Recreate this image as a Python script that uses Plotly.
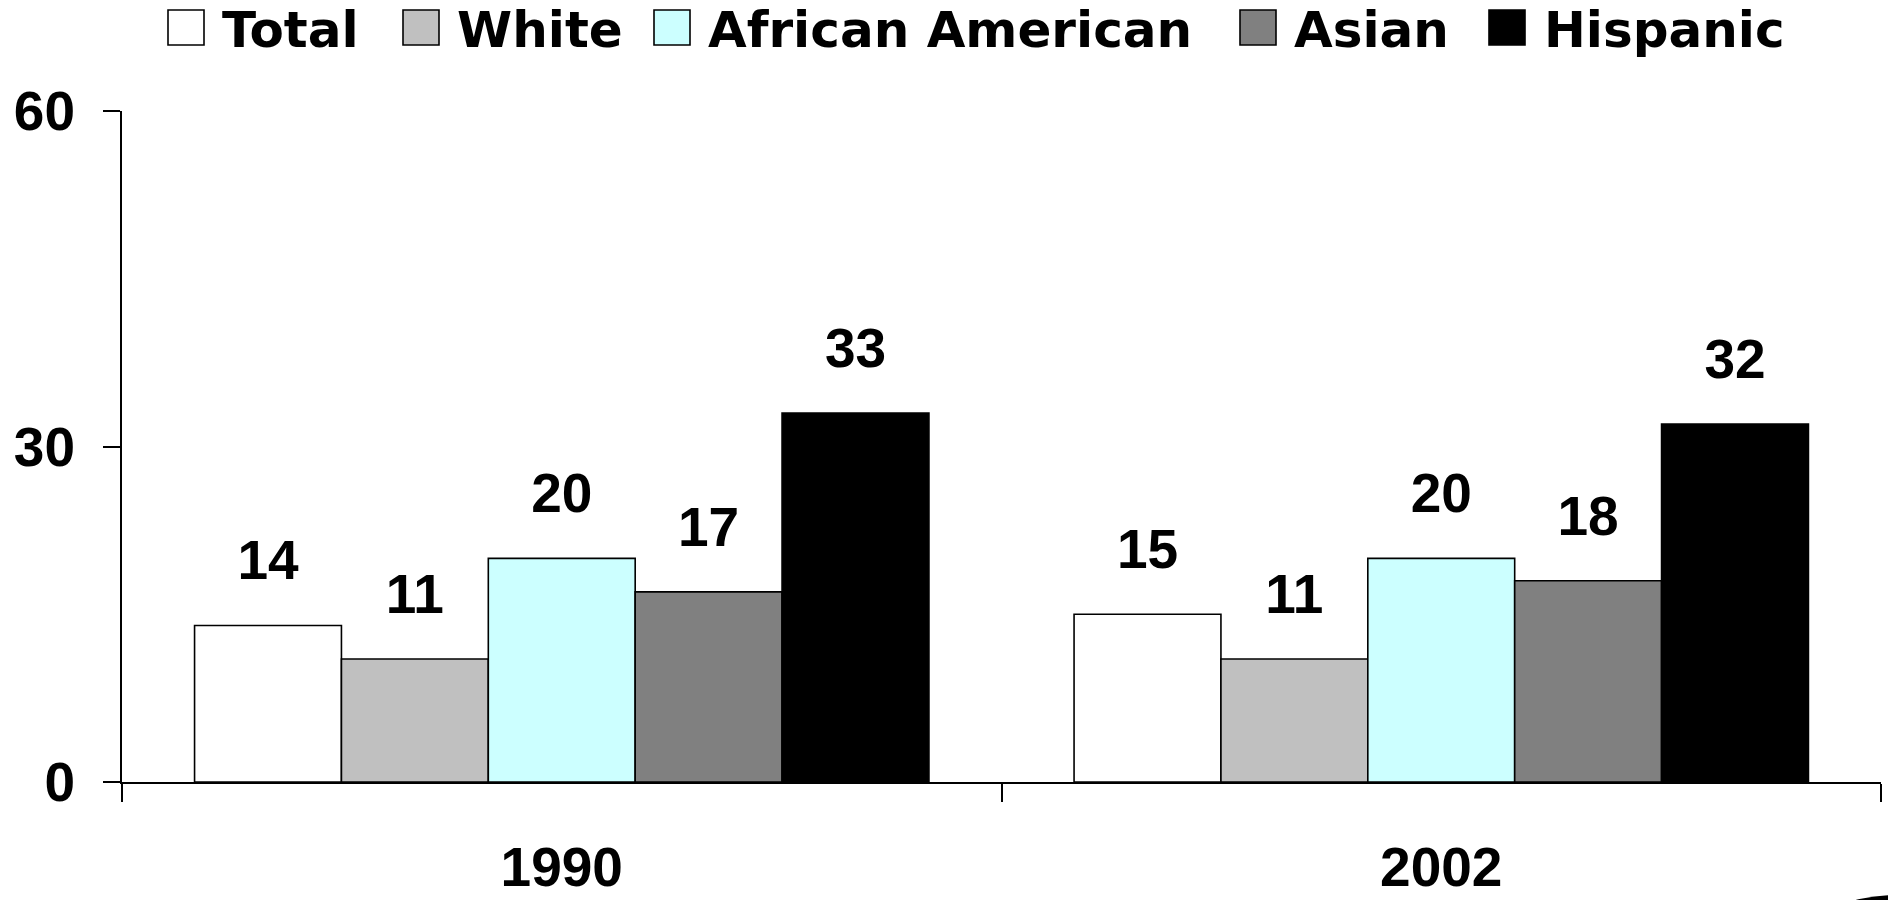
import plotly.graph_objects as go

categories = ["1990", "2002"]
series_names = ["Total", "White", "African American", "Asian", "Hispanic"]
total = [14, 15]
white = [11, 11]
african_american = [20, 20]
asian = [17, 18]
hispanic = [33, 32]
y_ticks = [0, 30, 60]

series_values = [total, white, african_american, asian, hispanic]
colors = ["#FFFFFF", "#C0C0C0", "#CCFFFF", "#808080", "#000000"]

W, H = 1888, 900
ML, MR, MT, MB = 122, 7, 111, 118
PW, PH = W - ML - MR, H - MT - MB

def px(xp):
    return (xp - ML) / PW

def py(yp):
    return (H - MB - yp) / PH

NUM_FONT = "Liberation Sans, Arial, sans-serif"
LEG_FONT = "DejaVu Sans, sans-serif"

fig = go.Figure()
for name, vals, col in zip(series_names, series_values, colors):
    fig.add_trace(go.Bar(
        x=categories, y=vals, name=name,
        marker=dict(color=col, line=dict(color="#000000", width=1.6)),
        showlegend=False, offsetgroup=name,
    ))
for name, vals in zip(series_names, series_values):
    fig.add_trace(go.Scatter(
        x=categories, y=vals, mode="markers+text",
        text=[str(v) for v in vals], textposition="top center",
        textfont=dict(family=NUM_FONT, size=55, color="#000000", weight="bold"),
        marker=dict(size=50, color="rgba(0,0,0,0)"),
        showlegend=False, hoverinfo="skip", offsetgroup=name, cliponaxis=False,
    ))

# manual legend (large square swatches)
box_left = [168, 403, 654, 1240, 1489]
text_left = [220, 455, 706, 1292, 1542]
shapes = []
annotations = []
for name, col, bx, tx in zip(series_names, colors, box_left, text_left):
    shapes.append(dict(type="rect", xref="paper", yref="paper",
                       x0=px(bx), x1=px(bx + 36), y0=py(45), y1=py(10),
                       fillcolor=col, line=dict(color="#000000", width=1.6)))
    annotations.append(dict(xref="paper", yref="paper", x=px(tx), y=py(30),
                            xanchor="left", yanchor="middle", showarrow=False,
                            text=name,
                            font=dict(family=LEG_FONT, size=50, color="#000000", weight="bold")))
# corner arc artifact
shapes.append(dict(type="circle", xref="paper", yref="paper",
                   x0=px(1700), x1=px(2100), y0=py(1295), y1=py(895),
                   fillcolor="#000000", line=dict(color="#000000", width=0)))

fig.update_layout(
    width=W, height=H,
    margin=dict(l=ML, r=MR, t=MT, b=MB, pad=0, autoexpand=False),
    paper_bgcolor="#FFFFFF", plot_bgcolor="#FFFFFF",
    barmode="group", bargap=0.165, bargroupgap=0,
    scattermode="group", scattergap=0.165,
    shapes=shapes, annotations=annotations,
    showlegend=False,
    xaxis=dict(
        type="category", showgrid=False, showline=True, linecolor="#000000", linewidth=2,
        ticks="outside", ticklen=18, tickwidth=2, tickcolor="#000000", tickson="boundaries",
        tickfont=dict(family=NUM_FONT, size=55, color="#000000", weight="bold"),
        ticklabelstandoff=36, zeroline=False, automargin=False,
    ),
    yaxis=dict(
        range=[0, 60], tickvals=y_ticks, ticktext=[str(t) for t in y_ticks],
        showgrid=False, showline=True, linecolor="#000000", linewidth=2,
        ticks="outside", ticklen=17, tickwidth=2, tickcolor="#000000",
        tickfont=dict(family=NUM_FONT, size=55, color="#000000", weight="bold"),
        ticklabelstandoff=17, zeroline=False, automargin=False,
    ),
)

fig.write_html(
    "out.html",
    config={"displayModeBar": False},
    post_script="document.body.style.margin='0';document.body.style.overflow='hidden';",
)
